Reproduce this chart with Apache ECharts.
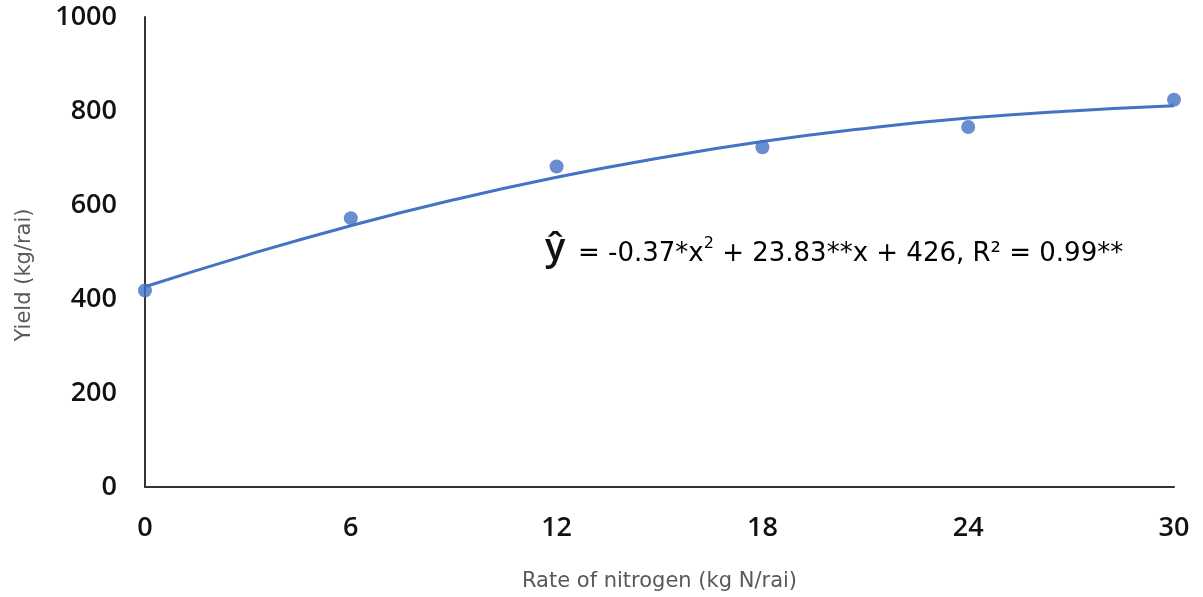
<!DOCTYPE html>
<html><head><meta charset="utf-8">
<script src="https://cdn.jsdelivr.net/npm/echarts@6/dist/echarts.min.js"></script>
<style>html,body{margin:0;padding:0;background:#fff}#c{width:1203px;height:597px}</style>
</head><body><div id="c"></div>
<script>
// Observed data points (N rate, yield)
const nRate = [0, 6, 12, 18, 24, 30];
const yieldObs = [418, 572, 682, 723, 766, 824];
// Trend curve
const curveX = [0, 3, 6, 9, 12, 15, 18, 21, 24, 27, 30];
const curveY = [426, 494, 556, 611, 659, 700, 735, 763, 785, 800, 811];
const xTicks = [0, 6, 12, 18, 24, 30];
const yTicks = [0, 200, 400, 600, 800, 1000];

const blue = '#4472C4';
const chart = echarts.init(document.getElementById('c'));
chart.setOption({
  animation: false,
  grid: {left: 145, right: 29, top: 17, bottom: 110, outerBoundsMode: 'none', containLabel: false},
  xAxis: {
    type: 'value', min: 0, max: 30, interval: 6,
    name: 'Rate of nitrogen (kg N/rai)', nameLocation: 'middle', nameGap: 84,
    nameTextStyle: {fontSize: 21, color: '#595959', fontFamily: 'DejaVu Sans'},
    axisLine: {show: true, lineStyle: {color: '#333', width: 2}},
    axisTick: {show: false}, splitLine: {show: false},
    axisLabel: {fontSize: 27, fontWeight: 600, color: '#111', margin: 28, fontFamily: 'Open Sans',
      formatter: v => String(v)}
  },
  yAxis: {
    type: 'value', min: 0, max: 1000, interval: 200,
    axisLine: {show: true, lineStyle: {color: '#333', width: 2}},
    axisTick: {show: false}, splitLine: {show: false},
    axisLabel: {fontSize: 27, fontWeight: 600, color: '#111', margin: 28, fontFamily: 'Open Sans',
      formatter: v => String(v)}
  },
  series: [
    {type: 'line', data: curveX.map((x, i) => [x, curveY[i]]), smooth: true, showSymbol: false,
     lineStyle: {color: blue, width: 3}, z: 2},
    {type: 'scatter', data: nRate.map((x, i) => [x, yieldObs[i]]), symbolSize: 14,
     itemStyle: {color: blue}, z: 3}
  ],
  graphic: [
    {type: 'text', x: 25, y: 275, rotation: Math.PI / 2,
     style: {text: 'Yield (kg/rai)', font: '21px "DejaVu Sans"', fill: '#595959', align: 'center', verticalAlign: 'middle'}},
    {type: 'text', left: 545, top: 230, style: {text: 'ŷ', font: '600 38px "Open Sans"', fill: '#111'}},
    {type: 'text', left: 578, top: 236, style: {
      text: '{a|= -0.37*x}{s|2}{a| + 23.83**x + 426, R² = 0.99**}',
      rich: {
        a: {fontSize: 26, fontFamily: 'DejaVu Sans', color: '#222', lineHeight: 34, verticalAlign: 'bottom'},
        s: {fontSize: 16, fontFamily: 'DejaVu Sans', color: '#222', lineHeight: 34, verticalAlign: 'bottom', padding: [0, 0, 15, 0]}
      }
    }}
  ]
});
</script></body></html>
